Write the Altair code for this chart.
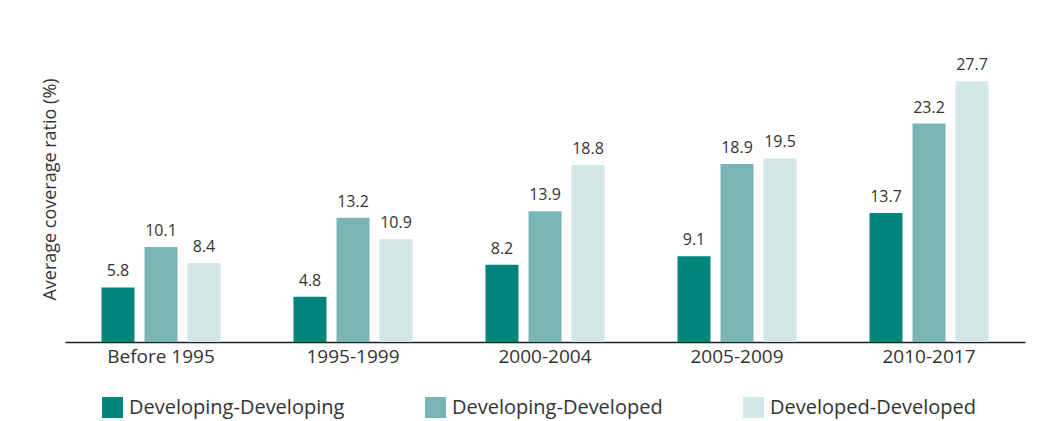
import altair as alt
import pandas as pd

periods = ["Before 1995", "1995-1999", "2000-2004", "2005-2009", "2010-2017"]
series = ["Developing-Developing", "Developing-Developed", "Developed-Developed"]
dev_dev = [5.8, 4.8, 8.2, 9.1, 13.7]
dev_dvd = [10.1, 13.2, 13.9, 18.9, 23.2]
dvd_dvd = [8.4, 10.9, 18.8, 19.5, 27.7]
colors = ["#00857d", "#7ab5b5", "#d4e7e7"]

rows = []
for i, p in enumerate(periods):
    for s, vals in zip(series, [dev_dev, dev_dvd, dvd_dvd]):
        rows.append({"period": p, "series": s, "value": vals[i]})
df = pd.DataFrame(rows)

FONT = "Open Sans"

x = alt.X("period:N", sort=periods, title=None,
          scale=alt.Scale(paddingInner=0.38, paddingOuter=0.19),
          axis=alt.Axis(labelAngle=0, ticks=False, domainColor="#222222", domainWidth=1.5,
                        labelFontSize=19, labelColor="#333333", labelPadding=5, labelFont=FONT))
xo = alt.XOffset("series:N", sort=series, scale=alt.Scale(paddingInner=0.233, paddingOuter=0))
y = alt.Y("value:Q", scale=alt.Scale(domain=[0, 32.5], nice=False, zero=True),
          axis=alt.Axis(title="Average coverage ratio (%)", labels=False, ticks=False, domain=False,
                        grid=False, titleFontSize=18, titleFontWeight="normal", titleColor="#333333",
                        titlePadding=6, titleFont=FONT))

bars = alt.Chart(df).mark_bar().encode(
    x=x, xOffset=xo, y=y,
    color=alt.Color("series:N", sort=series, scale=alt.Scale(domain=series, range=colors),
                    legend=alt.Legend(title=None, orient="none", direction="horizontal",
                                      legendX=37, legendY=361, symbolType="square", symbolSize=440,
                                      symbolStrokeWidth=0, labelFontSize=20, labelColor="#333333",
                                      labelFont=FONT, columnPadding=80, labelOffset=6,
                                      labelLimit=400, symbolOpacity=1)),
)

labels = alt.Chart(df).mark_text(baseline="bottom", dy=-8, fontSize=16, color="#333333", font=FONT).encode(
    x=x, xOffset=xo, y=y, text=alt.Text("value:Q", format=".1f"),
)

chart = alt.layer(bars, labels).properties(
    width=960, height=306,
    background="white",
    autosize=alt.AutoSizeParams(type="none"),
    padding={"left": 57, "top": 28, "right": 20, "bottom": 80},
).configure_view(stroke=None)

chart.save("out.html", embed_options={"renderer": "svg", "actions": False})
